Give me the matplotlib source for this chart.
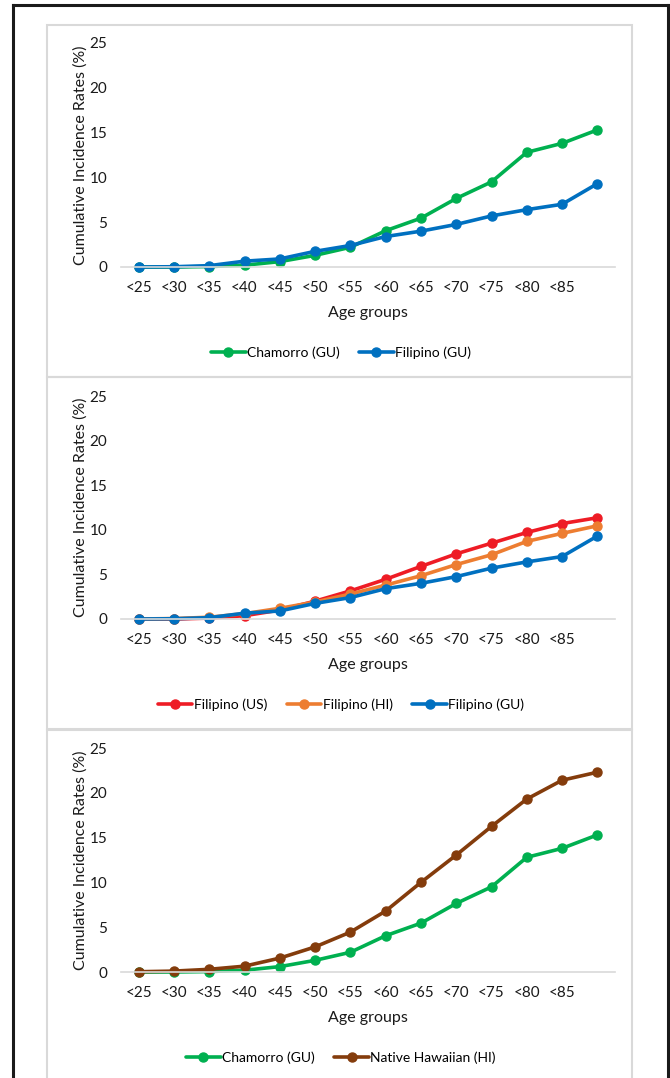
import numpy as np
import matplotlib.pyplot as plt
from matplotlib.patches import Rectangle
from matplotlib.lines import Line2D

W, H = 670, 1078

age_groups = ['<25', '<30', '<35', '<40', '<45', '<50', '<55', '<60', '<65', '<70', '<75', '<80', '<85', '']

chamorro_gu = [0, 0, 0.05, 0.2, 0.6, 1.3, 2.2, 4.05, 5.45, 7.65, 9.5, 12.8, 13.8, 15.3]
filipino_gu = [0, 0.03, 0.15, 0.65, 0.9, 1.75, 2.4, 3.4, 4.0, 4.75, 5.7, 6.4, 7.0, 9.3]
filipino_us = [0, 0, 0.1, 0.37, 1.0, 2.0, 3.15, 4.45, 5.9, 7.3, 8.5, 9.7, 10.7, 11.35]
filipino_hi = [0, 0.05, 0.2, 0.6, 1.2, 1.9, 2.8, 3.8, 4.85, 6.1, 7.2, 8.7, 9.6, 10.45]
native_hawaiian_hi = [0.03, 0.1, 0.3, 0.65, 1.55, 2.8, 4.45, 6.8, 10.0, 13.05, 16.25, 19.3, 21.4, 22.3]

GREEN = '#00b050'
BLUE = '#0070c0'
RED = '#ee1c25'
ORANGE = '#ed7d31'
BROWN = '#843c0c'

plt.rcParams['font.family'] = ['Lato', 'DejaVu Sans']

fig = plt.figure(figsize=(W / 100, H / 100), dpi=100)
fig.patch.set_facecolor('white')


def fx(x):
    return x / W


def fy(y):
    return 1 - y / H


# outer black frame (left, top, right)
for xs, ys in [([13, 13], [5, H]), ([13, 668], [5, 5]), ([668, 668], [5, H])]:
    fig.add_artist(Line2D([fx(v) for v in xs], [fy(v) for v in ys], color='#1a1a1a', lw=2.2,
                          transform=fig.transFigure))

# panels : (top of panel, bottom of panel, y px of 25, y px of 0, legend y)
panels = [
    (25, 377, 43, 267, 353),
    (377, 729, 396, 619, 705),
    (730, 1090, 748, 972, 1058),
]

series = [
    [('Chamorro (GU)', chamorro_gu, GREEN), ('Filipino (GU)', filipino_gu, BLUE)],
    [('Filipino (US)', filipino_us, RED), ('Filipino (HI)', filipino_hi, ORANGE), ('Filipino (GU)', filipino_gu, BLUE)],
    [('Chamorro (GU)', chamorro_gu, GREEN), ('Native Hawaiian (HI)', native_hawaiian_hi, BROWN)],
]

x = np.arange(len(age_groups))
ax_left, ax_right = 121, 615

for (ptop, pbot, y25, y0, leg_y), ser in zip(panels, series):
    fig.add_artist(Rectangle((fx(47), fy(pbot)), fx(632) - fx(47), fy(ptop) - fy(pbot),
                             transform=fig.transFigure, fill=False, edgecolor='#d9d9d9', lw=1.5))
    ax = fig.add_axes([fx(ax_left), fy(y0), fx(ax_right) - fx(ax_left), fy(y25) - fy(y0)])
    ax.set_facecolor('none')
    for name, vals, col in ser:
        ax.plot(x, vals, color=col, lw=2.6, marker='o', ms=6.5, label=name, clip_on=False,
                solid_capstyle='round')
    ax.set_xlim(-0.5, len(age_groups) - 0.5)
    ax.set_ylim(0, 25)
    ax.set_yticks([0, 5, 10, 15, 20, 25])
    ax.set_xticks(x)
    ax.set_xticklabels(age_groups)
    for s in ['top', 'right', 'left']:
        ax.spines[s].set_visible(False)
    ax.spines['bottom'].set_color('#d9d9d9')
    ax.spines['bottom'].set_linewidth(1.2)
    ax.tick_params(axis='both', length=0, labelsize=11, colors='#1a1a1a')
    ax.tick_params(axis='y', pad=10)
    ax.tick_params(axis='x', pad=10)
    ax.set_xlabel('Age groups', fontsize=11.5, color='#1a1a1a', labelpad=8)
    ax.set_ylabel('Cumulative Incidence Rates (%)', fontsize=11.5, color='#1a1a1a', labelpad=1)
    ax.legend(loc='center', bbox_to_anchor=(fx(341), fy(leg_y)), bbox_transform=fig.transFigure,
              ncol=len(ser), frameon=False, fontsize=10, handlelength=2.5, handletextpad=0.1,
              columnspacing=1.4, borderaxespad=0)

fig.savefig('out.png', dpi=100, facecolor='white')
